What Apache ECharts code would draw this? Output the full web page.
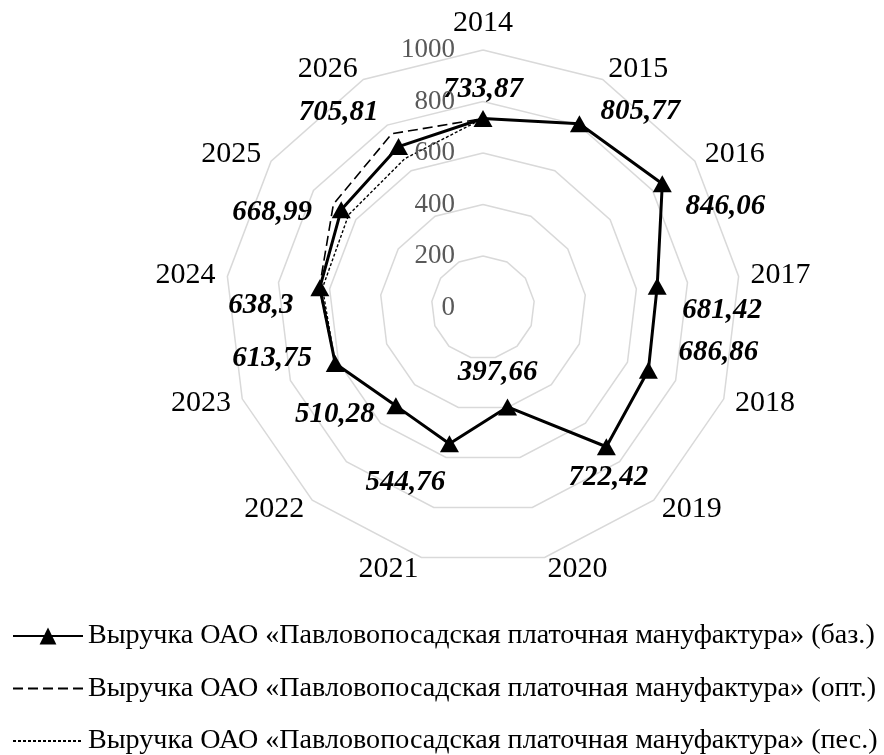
<!DOCTYPE html>
<html>
<head>
<meta charset="utf-8">
<script src="https://cdn.jsdelivr.net/npm/echarts@6/dist/echarts.min.js"></script>
<style>
  html, body { margin: 0; padding: 0; background: #fff; }
  #chart { width: 884px; height: 755px; }
</style>
</head>
<body>
<div id="chart"></div>
<script>
// years around the radar, clockwise from the top
var years = ['2014', '2015', '2016', '2017', '2018', '2019', '2020', '2021', '2022', '2023', '2024', '2025', '2026'];
var baseValues = [733.87, 805.77, 846.06, 681.42, 686.86, 722.42, 397.66, 544.76, 510.28, 613.75, 638.3, 668.99, 705.81];
var optValues = [733.87, null, null, null, null, null, null, null, null, 613.75, 640, 706, 762];
var pesValues = [733.87, null, null, null, null, null, null, null, null, 613.75, 628, 634, 653];
var radiusTicks = [0, 200, 400, 600, 800, 1000];

var seriesNames = [
    'Выручка ОАО «Павловопосадская платочная мануфактура» (баз.)',
    'Выручка ОАО «Павловопосадская платочная мануфактура» (опт.)',
    'Выручка ОАО «Павловопосадская платочная мануфактура» (пес.)'
];

// where each value label sits relative to its marker (dx, dy)
var labelShift = [[0, -29], [61, -12], [63, 23], [65, 24], [70, -18], [2, 31], [-10, -34],
    [-44, 39], [-61, 9], [-63, -5], [-59, 18], [-69, 3], [-60, -34]];

var center = [483, 307.5], radius = 257.5;
var serif = 'Liberation Serif';
var maxVal = radiusTicks[radiusTicks.length - 1];
var step = radiusTicks[1] - radiusTicks[0];

// [value, position] pairs that walk the ring and close back onto the first year
function ringPoints(values) {
    var pts = values.map(function (v, i) { return [v == null ? '-' : v, i]; });
    pts.push([values[0], values.length]);
    return pts;
}

var baseData = ringPoints(baseValues).map(function (p, i) {
    if (i === years.length) {
        return { value: p, symbol: 'none', label: { show: false } };
    }
    var sh = labelShift[i], txt = String(baseValues[i]).replace('.', ',');
    return { value: p, label: { offset: sh, formatter: txt } };
});

var chart = echarts.init(document.getElementById('chart'), null, { renderer: 'canvas' });
chart.setOption({
    animation: false,
    backgroundColor: '#fff',
    radar: {
        center: center,
        radius: radius,
        shape: 'polygon',
        splitNumber: radiusTicks.length - 1,
        // echarts lays indicators counter-clockwise, so feed them reversed
        indicator: [years[0]].concat(years.slice(1).reverse()).map(function (y) {
            return { name: y, min: 0, max: maxVal };
        }),
        nameGap: 12,
        axisName: { color: '#000', fontSize: 30, fontFamily: serif },
        axisLine: { show: false },
        axisTick: { show: false },
        axisLabel: { show: false },
        splitArea: { show: false },
        splitLine: { lineStyle: { color: '#d9d9d9', width: 1.5 } }
    },
    polar: { center: center, radius: radius },
    angleAxis: {
        type: 'value', min: 0, max: years.length, startAngle: 90, clockwise: true,
        axisLine: { show: false }, axisTick: { show: false },
        axisLabel: { show: false }, splitLine: { show: false }
    },
    radiusAxis: {
        type: 'value', min: 0, max: maxVal, interval: step,
        axisLine: { show: false }, axisTick: { show: false }, splitLine: { show: false },
        axisLabel: {
            color: '#595959', fontSize: 27, fontFamily: serif, margin: 28,
            formatter: function (v) { return String(v); }
        },
        z: 5
    },
    legend: {
        orient: 'vertical',
        left: 12,
        top: 621,
        height: 200,
        padding: 0,
        itemWidth: 70,
        itemHeight: 21,
        itemGap: 22.5,
        data: [
            { name: seriesNames[0] },
            { name: seriesNames[1], itemStyle: { opacity: 0 } },
            { name: seriesNames[2], itemStyle: { opacity: 0 } }
        ],
        textStyle: { color: '#000', fontSize: 28.1, fontFamily: serif, lineHeight: 30 }
    },
    series: [
        {
            name: seriesNames[2],
            type: 'line',
            coordinateSystem: 'polar',
            data: ringPoints(pesValues),
            symbol: 'none',
            connectNulls: false,
            lineStyle: { color: '#000', width: 1.4, type: [3, 2] },
            itemStyle: { color: '#000' },
            z: 2
        },
        {
            name: seriesNames[1],
            type: 'line',
            coordinateSystem: 'polar',
            data: ringPoints(optValues),
            symbol: 'none',
            connectNulls: false,
            lineStyle: { color: '#000', width: 1.6, type: [10, 5] },
            itemStyle: { color: '#000' },
            z: 3
        },
        {
            name: seriesNames[0],
            type: 'line',
            coordinateSystem: 'polar',
            data: baseData,
            symbol: 'triangle',
            symbolSize: [19, 17],
            lineStyle: { color: '#000', width: 3 },
            itemStyle: { color: '#000' },
            label: {
                show: true,
                position: 'inside',
                color: '#000',
                fontSize: 29,
                fontWeight: 'bold',
                fontStyle: 'italic',
                fontFamily: serif
            },
            z: 4
        }
    ]
});
</script>
</body>
</html>
